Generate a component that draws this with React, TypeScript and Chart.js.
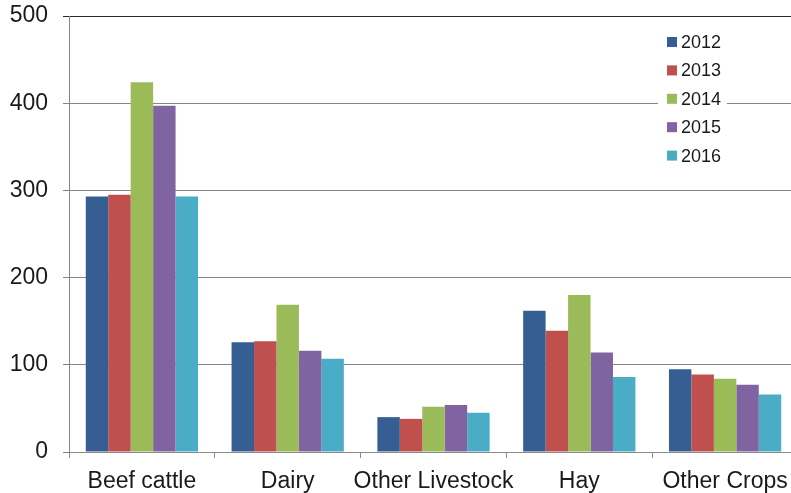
import React, { useEffect, useRef } from "react";
import { Chart, registerables } from "chart.js";

Chart.register(...registerables);

const categories = ["Beef cattle", "Dairy", "Other Livestock", "Hay", "Other Crops"];
const seriesLabels = ["2012", "2013", "2014", "2015", "2016"];
const values2012 = [293, 126, 40, 162, 95];
const values2013 = [295, 127, 38, 139, 89];
const values2014 = [424, 169, 52, 180, 84];
const values2015 = [397, 116, 54, 114, 77];
const values2016 = [293, 107, 45, 86, 66];
const yMin = 0;
const yMax = 500;
const yStep = 100;

const seriesValues = [values2012, values2013, values2014, values2015, values2016];
const seriesColors = ["#375E92", "#C0504D", "#9BBB59", "#8064A2", "#4BACC6"];

const FONT = '"Liberation Sans", Arial, sans-serif';
const TEXT = "#1a1a1a";

const insideLegend = {
  id: "insideLegend",
  afterDraw(chart: any, _args: any, opts: any) {
    const ctx = chart.ctx;
    ctx.save();
    ctx.fillStyle = "#ffffff";
    ctx.fillRect(opts.x, opts.y, opts.w, opts.h);
    ctx.font = `18px ${FONT}`;
    ctx.textBaseline = "middle";
    ctx.textAlign = "left";
    chart.data.datasets.forEach((ds: any, i: number) => {
      const cy = opts.firstY + i * opts.step;
      ctx.fillStyle = ds.backgroundColor;
      ctx.fillRect(opts.boxX, cy - 5, 10, 10);
      ctx.fillStyle = TEXT;
      ctx.fillText(ds.label, opts.textX, cy + 1);
    });
    ctx.restore();
  },
};

export default function App() {
  const ref = useRef<HTMLCanvasElement | null>(null);

  useEffect(() => {
    if (!ref.current) return;
    const chart = new Chart(ref.current, {
      type: "bar",
      data: {
        labels: categories,
        datasets: seriesLabels.map((label, i) => ({
          label,
          data: seriesValues[i],
          backgroundColor: seriesColors[i],
          borderWidth: 0,
          categoryPercentage: 0.77,
          barPercentage: 1.0,
        })),
      },
      options: {
        responsive: false,
        animation: false,
        layout: { padding: { top: 16, left: 0, right: 0, bottom: 0 } },
        plugins: {
          legend: { display: false },
          tooltip: { enabled: false },
          insideLegend: {
            x: 658,
            y: 28,
            w: 69,
            h: 140,
            boxX: 667,
            textX: 681,
            firstY: 42,
            step: 28.4,
          },
        } as any,
        scales: {
          x: {
            grid: {
              offset: true,
              drawOnChartArea: false,
              drawTicks: true,
              tickLength: 6,
              color: "#8a8a8a",
              lineWidth: 1,
            },
            border: { color: "#8a8a8a", width: 1 },
            ticks: {
              color: TEXT,
              font: { size: 23, family: FONT },
              padding: 10,
              maxRotation: 0,
              autoSkip: false,
            },
            afterFit: (s: any) => {
              s.height = 41;
              s.paddingLeft = 0;
              s.paddingRight = 0;
            },
          },
          y: {
            min: yMin,
            max: yMax,
            ticks: {
              stepSize: yStep,
              color: TEXT,
              font: { size: 23, family: FONT },
              padding: 15,
            },
            grid: {
              tickLength: 6,
              lineWidth: 1,
              color: (c: any) => (c.tick && c.tick.value === yMax ? "#2a2a2a" : "#858585"),
            },
            border: { color: "#858585", width: 1 },
            afterFit: (s: any) => {
              s.width = 69;
              s.paddingTop = 0;
              s.paddingBottom = 0;
            },
          },
        },
      },
      plugins: [insideLegend],
    });
    return () => chart.destroy();
  }, []);

  return (
    <div
      style={{
        position: "fixed",
        left: 0,
        top: 0,
        width: 791,
        height: 493,
        overflow: "hidden",
        background: "#fff",
      }}
    >
      <canvas ref={ref} width={798} height={493} style={{ display: "block" }} />
    </div>
  );
}
